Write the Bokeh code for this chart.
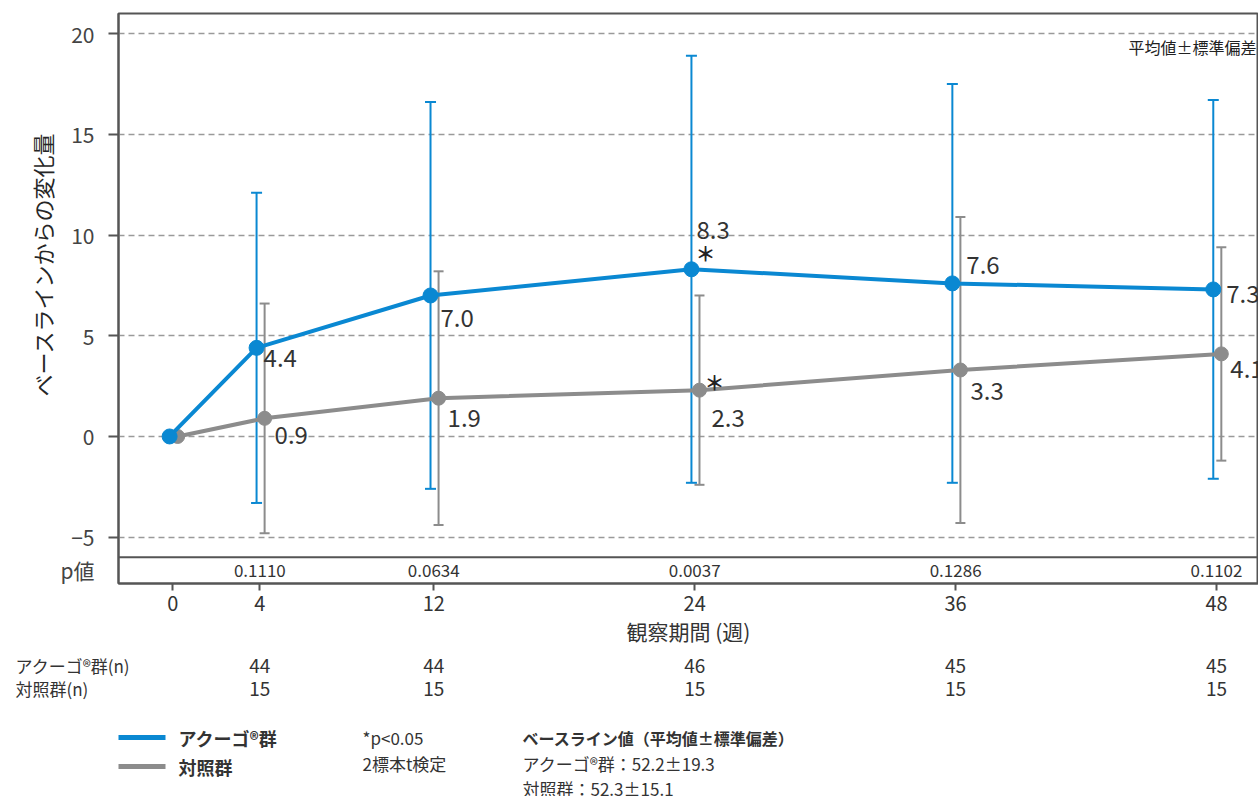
from bokeh.plotting import figure
from bokeh.layouts import column
from bokeh.models import (Range1d, FixedTicker, Label, Title, Whisker, ColumnDataSource,
                          TeeHead, Span)
from bokeh.embed import file_html
from bokeh.resources import INLINE
from bokeh.core.properties import value

# ---------------- data ----------------
weeks = [0, 4, 12, 24, 36, 48]
acugo_mean = [0.0, 4.4, 7.0, 8.3, 7.6, 7.3]
acugo_sd = [0.0, 7.7, 9.6, 10.6, 9.9, 9.4]
control_mean = [0.0, 0.9, 1.9, 2.3, 3.3, 4.1]
control_sd = [0.0, 5.7, 6.3, 4.7, 7.6, 5.3]
p_weeks = [4, 12, 24, 36, 48]
p_values = ["0.1110", "0.0634", "0.0037", "0.1286", "0.1102"]
n_acugo = [44, 44, 46, 45, 45]
n_control = [15, 15, 15, 15, 15]
sig_week = 24
baseline_acugo = (52.2, 19.3)
baseline_control = (52.3, 15.1)
y_ticks = [-5, 0, 5, 10, 15, 20]
p_row_y = -6.65

# ---------------- layout / style ----------------
W, H = 1258, 796
FL, FT, FB = 118, 13, 583
H1 = 650
X0, X1 = -2.5, 49.93
Y0, Y1 = -7.3, 21.0
FONT = "Noto Sans CJK JP"
BLUE = "#0a88d2"
GRAY = "#8c8c8c"
TXT = "#333333"
DARK = "#555555"
blue_shift, gray_shift = -0.15, 0.22


def px2x(px):
    return X0 + (px - FL) * (X1 - X0) / (W - FL)


p = figure(width=W, height=H1, x_range=Range1d(X0, X1), y_range=Range1d(Y0, Y1),
           output_backend="svg", toolbar_location=None,
           min_border_left=FL, min_border_right=0, min_border_top=FT,
           min_border_bottom=H1 - FB)
p.frame_align = False
p.background_fill_color = "white"
p.border_fill_color = "white"
p.outline_line_color = DARK
p.outline_line_width = 2

# y axis: labels from major ticks (incl. the p-value row label), tick marks from minor ticks
p.yaxis.ticker = FixedTicker(ticks=[p_row_y] + y_ticks, minor_ticks=y_ticks)
p.yaxis.major_label_overrides = {p_row_y: "p値"}
p.ygrid.ticker = FixedTicker(ticks=y_ticks)
p.ygrid.grid_line_color = "#9a9a9a"
p.ygrid.grid_line_dash = "6 4"
p.ygrid.grid_line_width = 1.5
p.xgrid.visible = False
p.yaxis.axis_line_color = DARK
p.yaxis.axis_line_width = 2
p.yaxis.major_tick_out = 0
p.yaxis.major_tick_in = 0
p.yaxis.major_tick_line_color = None
p.yaxis.minor_tick_line_color = DARK
p.yaxis.minor_tick_line_width = 2
p.yaxis.minor_tick_out = 10
p.yaxis.minor_tick_in = 0
p.yaxis.major_label_text_font = FONT
p.yaxis.major_label_text_font_size = "21px"
p.yaxis.major_label_text_color = "#444444"
p.yaxis.major_label_standoff = 14

p.xaxis.ticker = FixedTicker(ticks=weeks)
p.xaxis.axis_line_color = DARK
p.xaxis.axis_line_width = 2
p.xaxis.major_tick_line_color = DARK
p.xaxis.major_tick_line_width = 2
p.xaxis.major_tick_out = 7
p.xaxis.major_tick_in = 0
p.xaxis.minor_tick_line_color = None
p.xaxis.major_label_text_font = FONT
p.xaxis.major_label_text_font_size = "20px"
p.xaxis.major_label_text_color = TXT
p.xaxis.major_label_standoff = 5
p.xaxis.axis_label = "観察期間 (週)"
p.xaxis.axis_label_text_font = FONT
p.xaxis.axis_label_text_font_size = "21px"
p.xaxis.axis_label_text_font_style = "normal"
p.xaxis.axis_label_text_color = TXT
p.xaxis.axis_label_standoff = 2

p.add_layout(Title(text="ベースラインからの変化量", align="right", offset=119,
                   text_font=FONT, text_font_size="22px", text_font_style="normal",
                   text_color="#262626", standoff=0), "left")

# separator above p-value row
p.add_layout(Span(location=-6.0, dimension="width", line_color=DARK, line_width=2))

# ---------------- series ----------------
bx = [w + blue_shift for w in weeks]
gx = [w + gray_shift for w in weeks]

src_c = ColumnDataSource(dict(
    base=gx[1:],
    upper=[m + s for m, s in zip(control_mean[1:], control_sd[1:])],
    lower=[m - s for m, s in zip(control_mean[1:], control_sd[1:])]))
src_a = ColumnDataSource(dict(
    base=bx[1:],
    upper=[m + s for m, s in zip(acugo_mean[1:], acugo_sd[1:])],
    lower=[m - s for m, s in zip(acugo_mean[1:], acugo_sd[1:])]))

p.add_layout(Whisker(source=src_c, base="base", upper="upper", lower="lower",
                     line_color=GRAY, line_width=2,
                     upper_head=TeeHead(size=10, line_color=GRAY, line_width=2),
                     lower_head=TeeHead(size=10, line_color=GRAY, line_width=2)))
p.add_layout(Whisker(source=src_a, base="base", upper="upper", lower="lower",
                     line_color=BLUE, line_width=2,
                     upper_head=TeeHead(size=11, line_color=BLUE, line_width=2),
                     lower_head=TeeHead(size=11, line_color=BLUE, line_width=2)))

p.line(gx, control_mean, line_color=GRAY, line_width=4)
p.scatter(gx, control_mean, size=14, fill_color=GRAY, line_color=GRAY)
p.line(bx, acugo_mean, line_color=BLUE, line_width=4)
p.scatter(bx, acugo_mean, size=15, fill_color=BLUE, line_color=BLUE)

# value labels (offsets in px: right, down)
a_dx = [0, 7, 10, 5, 14, 13]
a_dy = [0, 10, 23, -39, -18, 5]
c_dx = [0, 10, 9, 12, 10, 9]
c_dy = [0, 17, 20, 28, 21, 15]
val_src = ColumnDataSource(dict(
    x=bx[1:] + gx[1:],
    y=acugo_mean[1:] + control_mean[1:],
    t=[f"{v:.1f}" for v in acugo_mean[1:]] + [f"{v:.1f}" for v in control_mean[1:]],
    dx=a_dx[1:] + c_dx[1:],
    dy=a_dy[1:] + c_dy[1:]))
p.text(x="x", y="y", text="t", x_offset="dx", y_offset="dy", source=val_src,
       text_font=value(FONT), text_font_size="24px", text_color=TXT,
       text_align="left", text_baseline="middle")

# significance asterisks
si = weeks.index(sig_week)
p.text(x=[bx[si], gx[si]], y=[acugo_mean[si], control_mean[si]], text=["＊", "＊"],
       x_offset=[14, 15], y_offset=[-16, -8],
       text_font=value(FONT), text_font_size="20px", text_font_style="bold",
       text_color="#222222", text_align="center", text_baseline="middle")

# p-value row
p.text(x=p_weeks, y=[p_row_y] * len(p_weeks), text=p_values,
       text_font=value(FONT), text_font_size="17px", text_color=TXT,
       text_align="center", text_baseline="middle")

p.add_layout(Label(x=px2x(1128), y=Y1 - (46 - FT) * (Y1 - Y0) / (FB - FT),
                   text="平均値±標準偏差", text_font=FONT, text_font_size="16px",
                   text_color="#222222", text_align="left", text_baseline="middle"))

# ---------------- lower panel: n table and legend ----------------
q = figure(width=W, height=H - H1, x_range=Range1d(px2x(0), X1), y_range=Range1d(H, H1),
           output_backend="svg", toolbar_location=None,
           x_axis_location=None, y_axis_location=None,
           min_border_left=0, min_border_right=0, min_border_top=0, min_border_bottom=0)
q.frame_align = False
q.outline_line_color = None
q.grid.visible = False
q.background_fill_color = "white"
q.border_fill_color = "white"


def qtext(text, px, py, size="17px", style="normal", align="left"):
    q.text(x=[px2x(px)], y=[py], text=[text], text_font=value(FONT),
           text_font_size=size, text_font_style=style, text_color=TXT,
           text_align=align, text_baseline="middle")


qtext("アクーゴ®群(n)", 15, 665)
qtext("対照群(n)", 15, 688)
q.text(x=p_weeks, y=[665] * len(p_weeks), text=[str(n) for n in n_acugo],
       text_font=value(FONT), text_font_size="19px", text_color=TXT,
       text_align="center", text_baseline="middle")
q.text(x=p_weeks, y=[688] * len(p_weeks), text=[str(n) for n in n_control],
       text_font=value(FONT), text_font_size="19px", text_color=TXT,
       text_align="center", text_baseline="middle")

# legend swatches
q.line([px2x(118), px2x(165)], [737, 737], line_color=BLUE, line_width=5)
q.line([px2x(118), px2x(165)], [766, 766], line_color=GRAY, line_width=5)
qtext("アクーゴ®群", 178, 737, size="18px", style="bold")
qtext("対照群", 178, 766, size="18px", style="bold")
qtext("*p<0.05", 362, 737, size="17px")
qtext("2標本t検定", 362, 763, size="17px")
qtext("ベースライン値（平均値±標準偏差）", 522, 737, size="16px", style="bold")
qtext(f"アクーゴ®群：{baseline_acugo[0]}±{baseline_acugo[1]}", 522, 763, size="17px")
qtext(f"対照群：{baseline_control[0]}±{baseline_control[1]}", 522, 788, size="17px")

layout = column(p, q, spacing=0)
open("out.html", "w").write(file_html(layout, INLINE))
